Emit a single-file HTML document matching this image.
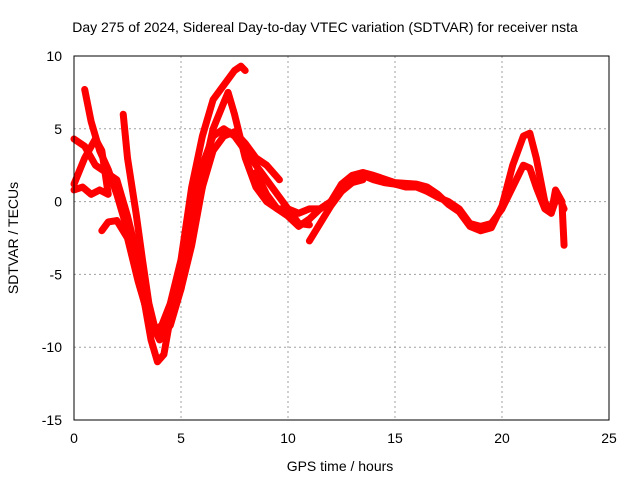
<!DOCTYPE html>
<html><head><meta charset="utf-8">
<style>
html,body{margin:0;padding:0;background:#fff;}
svg{display:block;font-family:"Liberation Sans",sans-serif;}
</style></head>
<body>
<svg id="chart" width="640" height="480" viewBox="0 0 640 480">
<rect width="640" height="480" fill="#fff"/>
<g id="grid"></g>
<g id="series"></g>
<rect x="74" y="56" width="535" height="364" fill="none" stroke="#000" stroke-width="1"/>
<g id="ticks" font-size="14"></g>
<text x="325" y="32" text-anchor="middle" font-size="14">Day 275 of 2024, Sidereal Day-to-day VTEC variation (SDTVAR) for receiver nsta</text>
<text x="340" y="471" text-anchor="middle" font-size="14">GPS time / hours</text>
<text transform="translate(18,238) rotate(-90)" text-anchor="middle" font-size="14">SDTVAR / TECUs</text>
</svg>
<script>
const xTicks = [0,5,10,15,20,25];
const yTicks = [10,5,0,-5,-10,-15];
const trackA = [[0.5,7.7],[0.8,5.5],[1.2,3.5],[1.6,2.2],[2.0,0.5],[2.5,-2],[3.0,-5],[3.3,-7],[3.6,-8.5],[4.0,-8.8],[4.5,-7.5],[5,-5],[5.5,-1],[6,2.5],[6.5,4.5],[7,5],[7.5,4.5],[8,3.5],[8.5,2.5],[9,1.5],[9.5,0.5],[10,-0.5],[10.5,-1.5],[11,-1.6]];
const trackB = [[2.3,6],[2.5,3],[2.9,-0.8],[3.2,-4],[3.5,-7],[3.8,-8.8],[4.1,-8.5],[4.5,-7],[5,-4],[5.5,1],[6,4.5],[6.5,7],[7,8],[7.5,9],[7.8,9.3],[8,9]];
const trackC = [[0,4.3],[0.5,3.8],[1,2.5],[1.5,2],[2,1.5],[2.5,-1],[3,-4],[3.3,-7],[3.6,-9.5],[3.9,-11],[4.2,-10.5],[4.5,-8],[5,-6],[5.5,-2],[6,1],[6.5,3.5],[7,4.5],[7.5,4.8],[8,4],[8.5,3],[9,2.5],[9.6,1.5]];
const trackD = [[0,1.2],[0.5,3],[1,4.3],[1.3,3.5],[1.5,1.5],[1.6,0.5],[1.2,0.8],[0.8,0.5],[0.4,1],[0,0.8]];
const trackE = [[1.3,-2],[1.6,-1.4],[2,-1.3],[2.5,-2.5],[3,-5.5],[3.5,-8],[4,-9.5],[4.5,-8.5],[5,-6],[5.5,-3],[6,1],[6.2,3],[6.5,5],[7,6.8],[7.2,7.5],[7.5,6],[8,3],[8.5,1],[9,0],[9.5,-0.5],[10,-0.5],[10.5,-0.8],[11,-0.5],[11.5,-0.5],[12,0],[12.5,1],[13,1.7],[13.5,1.8],[14,1.5],[14.5,1.3],[15,1.2],[15.5,1],[16,1],[16.5,0.7],[17,0.3],[17.5,0],[18,-0.5],[18.5,-1.5],[19,-1.7],[19.5,-1.5],[20,-0.5],[20.5,1],[21,2.5],[21.3,2.3],[21.6,1],[22,-0.5],[22.3,-0.8],[22.5,0.8],[22.8,0],[22.9,-3]];
const trackF = [[8.5,2],[9,0.5],[9.5,-0.5],[10,-1],[10.5,-1.7],[11,-1.2],[11.5,-0.5],[12,0],[12.5,1.2],[13,1.8],[13.5,2],[14,1.8],[15,1.3],[16,1.2],[16.5,1],[17,0.5],[17.5,-0.2],[18,-0.7],[18.5,-1.7],[19,-2],[19.5,-1.8],[20,-0.3],[20.5,2.5],[21,4.5],[21.3,4.7],[21.6,3],[22,0],[22.3,-0.8],[22.6,0.5],[22.9,-0.5]];
const trackG = [[11,-2.7],[11.5,-1.5],[12,-0.3],[12.5,0.7],[13,1.3],[13.5,1.5]];
const tracks = [trackA,trackB,trackC,trackD,trackE,trackF,trackG];

const NS='http://www.w3.org/2000/svg';
const X0=74,X1=609,Y0=420,Y1=56;
function xs(v){return X0+(v-0)/(25-0)*(X1-X0);}
function ys(v){return Y0-(v+15)/(10+15)*(Y0-Y1);}
const grid=document.getElementById('grid'),ticks=document.getElementById('ticks'),ser=document.getElementById('series');
xTicks.forEach(t=>{
  if(t>0&&t<25){const l=document.createElementNS(NS,'line');
  l.setAttribute('x1',xs(t));l.setAttribute('x2',xs(t));l.setAttribute('y1',Y1);l.setAttribute('y2',Y0);
  l.setAttribute('stroke','#a0a0a0');l.setAttribute('stroke-dasharray','2,3');
  
  
  grid.appendChild(l);}
  const tx=document.createElementNS(NS,'text');
  tx.setAttribute('x',xs(t));tx.setAttribute('y',443);tx.setAttribute('text-anchor','middle');tx.textContent=t;
  
  
  ticks.appendChild(tx);
});
yTicks.forEach(t=>{
  if(t<10&&t>-15){const l=document.createElementNS(NS,'line');
  l.setAttribute('x1',X0);l.setAttribute('x2',X1);l.setAttribute('y1',ys(t));l.setAttribute('y2',ys(t));
  l.setAttribute('stroke','#a0a0a0');l.setAttribute('stroke-dasharray','2,3');
  
  
  grid.appendChild(l);}
  const tx=document.createElementNS(NS,'text');
  tx.setAttribute('x',62);tx.setAttribute('y',ys(t)+5);tx.setAttribute('text-anchor','end');tx.textContent=t;
  
  
  ticks.appendChild(tx);
});
tracks.forEach(tr=>{
  const p=document.createElementNS(NS,'polyline');
  p.setAttribute('points',tr.map(d=>xs(d[0])+','+ys(d[1])).join(' '));
  p.setAttribute('fill','none');p.setAttribute('stroke','#ff0000');p.setAttribute('stroke-width','7');
  p.setAttribute('stroke-linejoin','round');p.setAttribute('stroke-linecap','round');
  
  
  ser.appendChild(p);
});
</script>
</body></html>
